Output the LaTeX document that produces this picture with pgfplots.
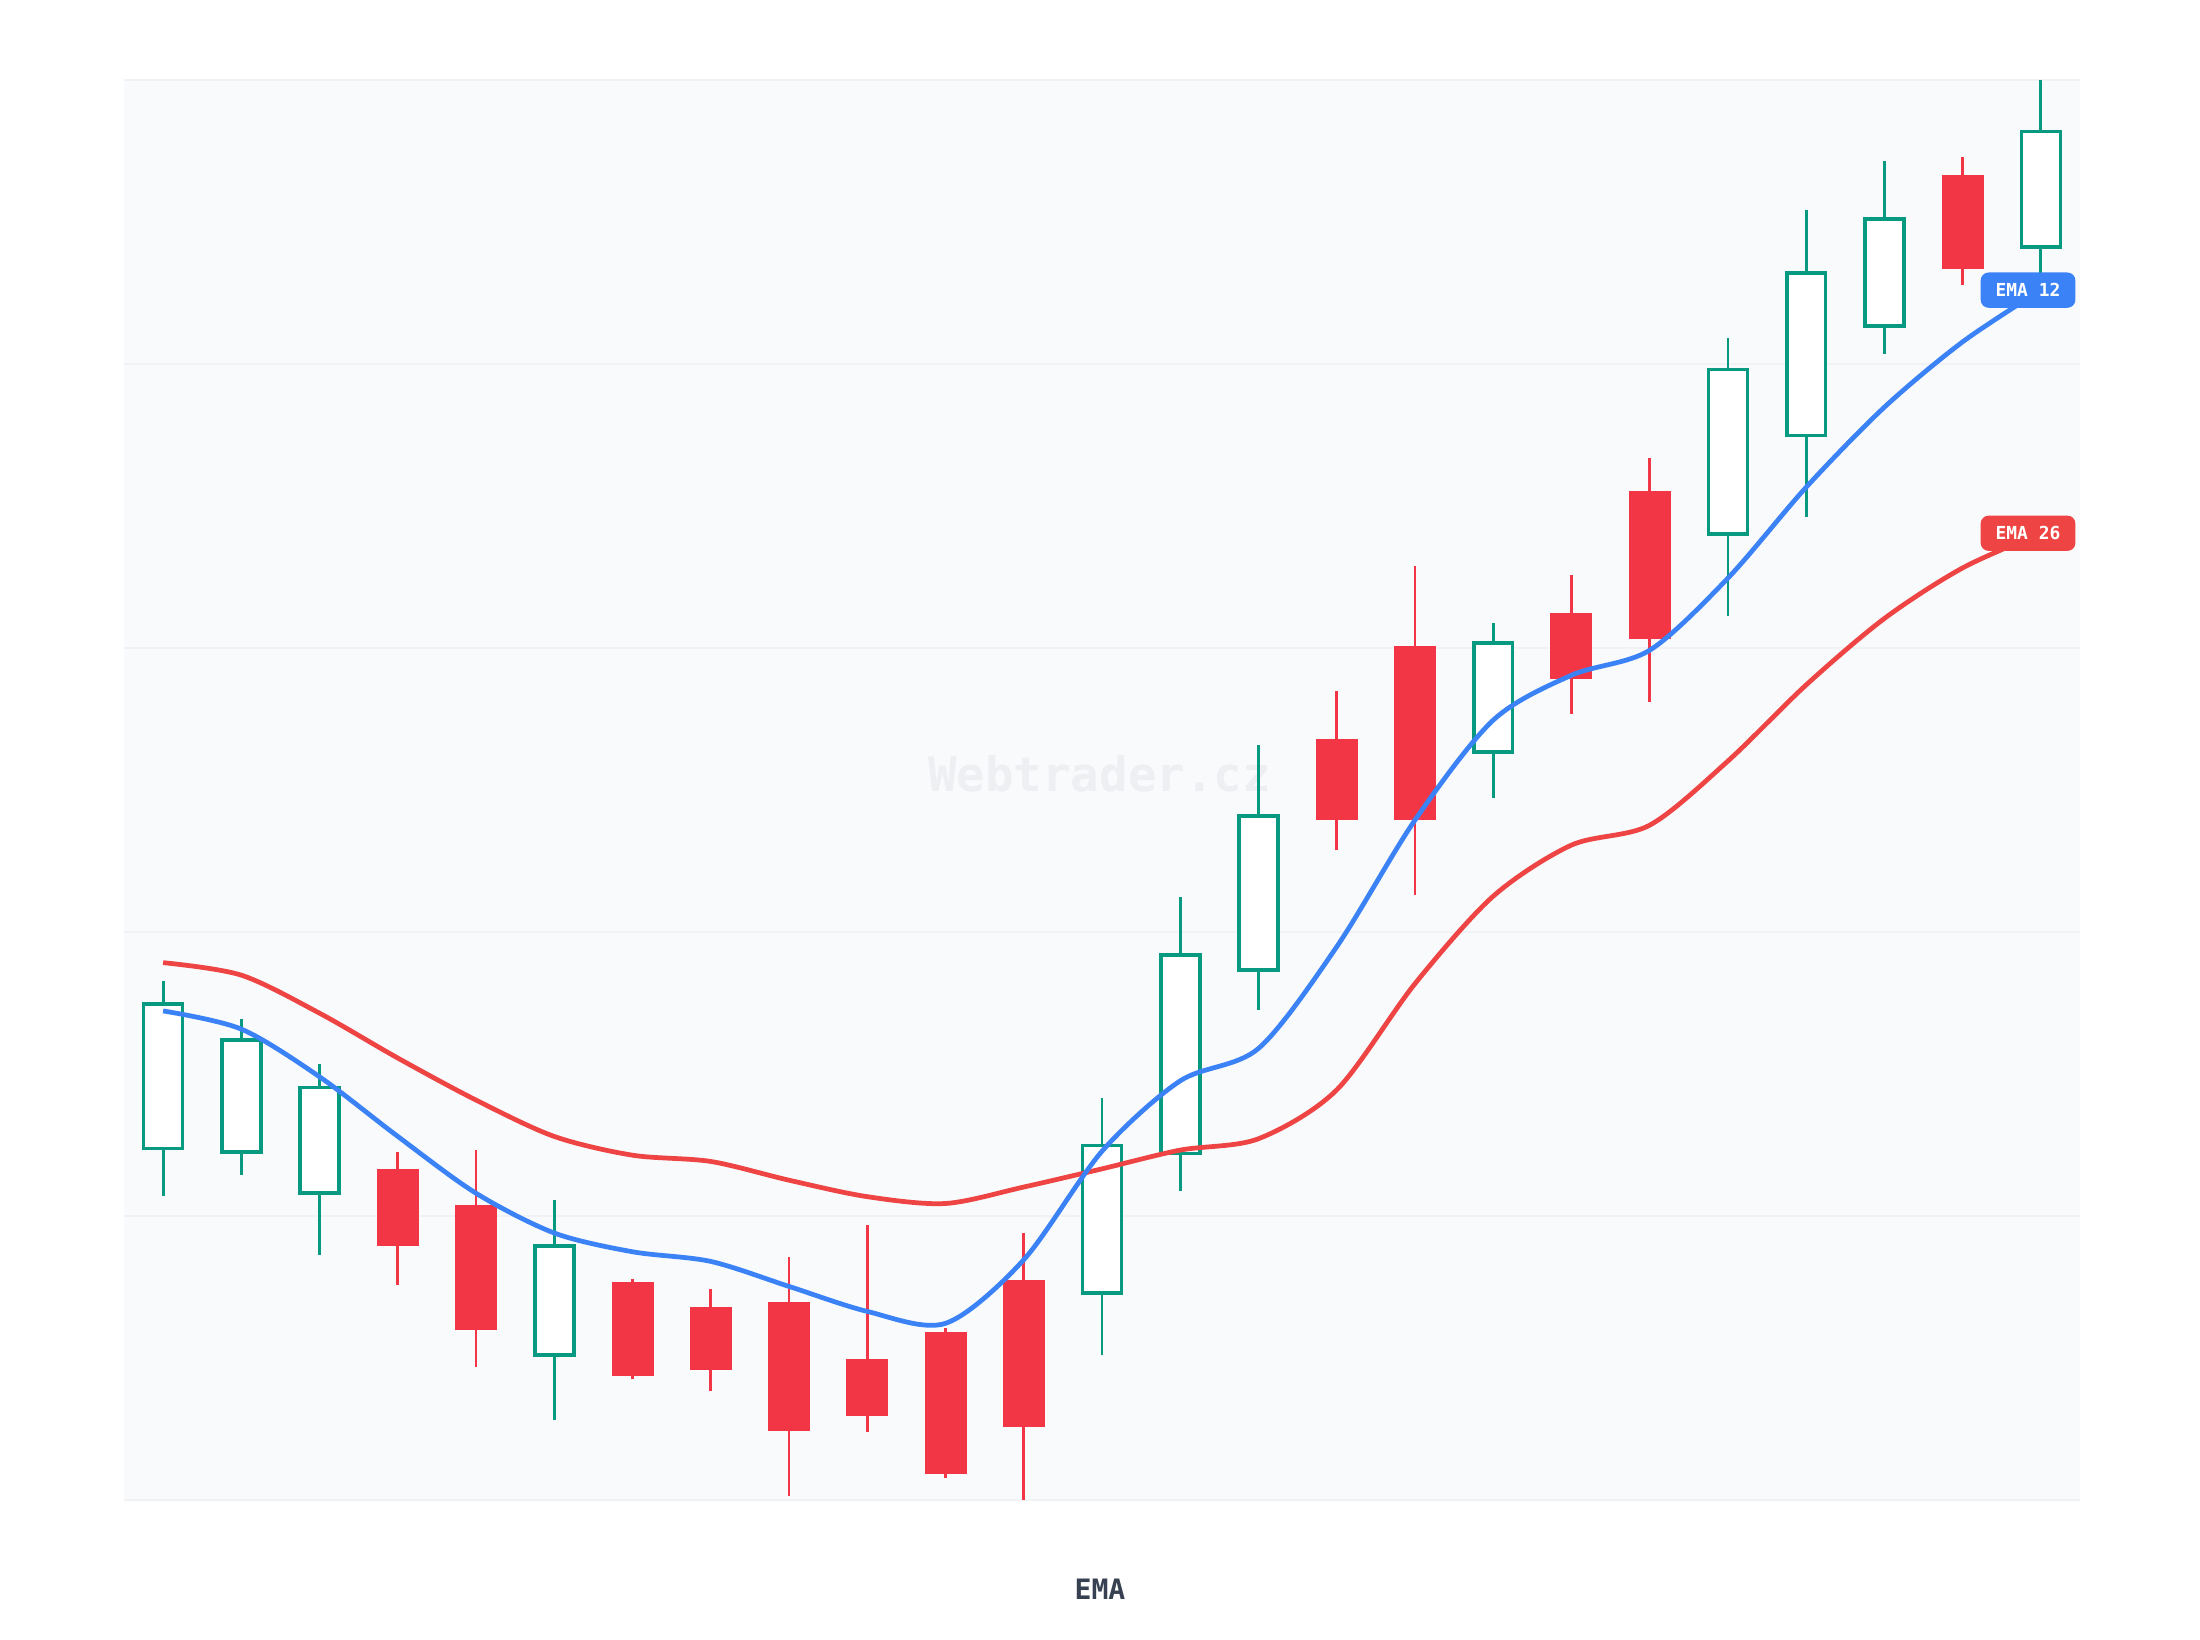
\documentclass[border=0pt]{standalone}
\usepackage{pgfplots}
\pgfplotsset{compat=1.18}
\usepackage{pgfplotstable}
\usepackage{fontspec}
\setmonofont{DejaVu Sans Mono}

\definecolor{bull}{HTML}{089981}
\definecolor{bear}{HTML}{F23645}
\definecolor{emablue}{HTML}{3B82F6}
\definecolor{emared}{HTML}{EF4444}
\definecolor{plotbg}{HTML}{F8FAFC}
\definecolor{gridc}{HTML}{F0F2F5}
\definecolor{wmark}{HTML}{EDEFF3}
\definecolor{titlec}{HTML}{374151}

% candles: idx open high low close
\pgfplotstableread{
idx open high low close
0 106.19 109.14 105.35 108.73
1 106.13 108.46 105.72 108.10
2 105.40 107.67 104.31 107.26
3 105.82 106.12 103.79 104.48
4 105.19 106.17 102.34 102.99
5 102.55 105.28 101.41 104.47
6 103.84 103.89 102.13 102.18
7 103.40 103.71 101.92 102.29
8 103.48 104.28 100.07 101.22
9 102.48 104.85 101.19 101.48
10 102.96 103.03 100.38 100.45
11 103.87 104.70 100.00 101.28
12 103.64 107.07 102.55 106.24
13 106.10 110.62 105.44 109.60
14 109.33 113.29 108.63 112.04
15 113.40 114.24 111.45 111.98
16 115.03 116.45 110.65 111.98
17 113.17 115.44 112.36 115.09
18 115.61 116.29 113.84 114.46
19 117.77 118.35 114.05 115.15
20 117.01 120.46 115.57 119.90
21 118.74 122.71 117.31 121.60
22 120.67 123.57 120.18 122.55
23 123.33 123.64 121.39 121.67
24 122.06 125.00 121.58 124.09
}\ohlc

\pgfplotstableread{
idx ema12 ema26
0 108.61 109.46
1 108.29 109.24
2 107.45 108.57
3 106.40 107.78
4 105.40 107.04
5 104.70 106.40
6 104.37 106.07
7 104.20 105.96
8 103.76 105.63
9 103.32 105.34
10 103.11 105.22
11 104.23 105.51
12 106.14 105.83
13 107.38 106.16
14 107.95 106.36
15 109.74 107.22
16 111.97 109.09
17 113.73 110.63
18 114.52 111.53
19 114.96 111.88
20 116.23 113.01
21 117.83 114.35
22 119.24 115.52
23 120.39 116.41
24 121.30 117.02
}\ema

% half the body outline, in price units (0.018cm at 0.568cm per unit)
\def\hs{0.032}

\pgfplotsset{
  rising/.style={restrict expr to domain={\thisrow{close}-\thisrow{open}}{0:100}},
  falling/.style={restrict expr to domain={\thisrow{open}-\thisrow{close}}{0:100}},
  stick/.style 2 args={draw=none, mark=none,
    error bars/.cd, y dir=plus, y explicit, error mark=none,
    error bar style={draw=#1, line width=#2, line cap=butt}},
}
\tikzset{
  emalabel/.style={anchor=east, text=white, rounded corners=0.08cm,
    inner xsep=0.15cm, inner ysep=0pt, minimum height=0.353cm,
    font=\ttfamily\bfseries\fontsize{5.1}{6}\selectfont},
}

\begin{document}
\begin{tikzpicture}
\path[use as bounding box] (0,0) rectangle (22,16.4);
\fill[plotbg] (1.24,1.40) rectangle (20.80,15.60);
\node[anchor=base, text=wmark, font=\ttfamily\bfseries\fontsize{13.5}{16}\selectfont]
  at (10.995,8.48) {Webtrader.cz};
\begin{axis}[
  at={(1.24cm,1.40cm)}, anchor=south west,
  width=19.56cm, height=14.2cm, scale only axis,
  xmin=-0.5, xmax=24.5, ymin=100, ymax=125,
  xtick=\empty, ytick={100,105,...,125}, yticklabel=\empty,
  major tick length=0pt,
  ymajorgrids, grid style={gridc, line width=0.6pt},
  axis line style={draw=none},
  clip=false,
]
% wicks
\addplot[rising, stick={bull}{0.8pt}]
  table[x=idx, y=low, y error expr=\thisrow{high}-\thisrow{low}] {\ohlc};
\addplot[falling, stick={bear}{0.8pt}]
  table[x=idx, y=low, y error expr=\thisrow{high}-\thisrow{low}] {\ohlc};
% falling bodies, filled
\addplot[falling, stick={bear}{0.42cm}]
  table[x=idx, y=close, y error expr=\thisrow{open}-\thisrow{close}] {\ohlc};
% rising bodies, hollow: outline then white inside
\addplot[rising, stick={bull}{0.425cm}]
  table[x=idx, y expr=\thisrow{open}-\hs,
        y error expr=\thisrow{close}-\thisrow{open}+2*\hs] {\ohlc};
\addplot[rising, stick={white}{0.353cm}]
  table[x=idx, y expr=\thisrow{open}+\hs,
        y error expr=\thisrow{close}-\thisrow{open}-2*\hs] {\ohlc};
% moving averages
\addplot[emared, line width=1.35pt, smooth, tension=0.5] table[x=idx, y=ema26] {\ema};
\addplot[emablue, line width=1.35pt, smooth, tension=0.5] table[x=idx, y=ema12] {\ema};
\node[emalabel, fill=emablue] at (axis cs:24.45,121.30) {EMA 12};
\node[emalabel, fill=emared] at (axis cs:24.45,117.02) {EMA 26};
\end{axis}
\node[anchor=base, text=titlec, font=\ttfamily\bfseries\fontsize{8}{10}\selectfont]
  at (11.0,0.40) {EMA};
\end{tikzpicture}
\end{document}
